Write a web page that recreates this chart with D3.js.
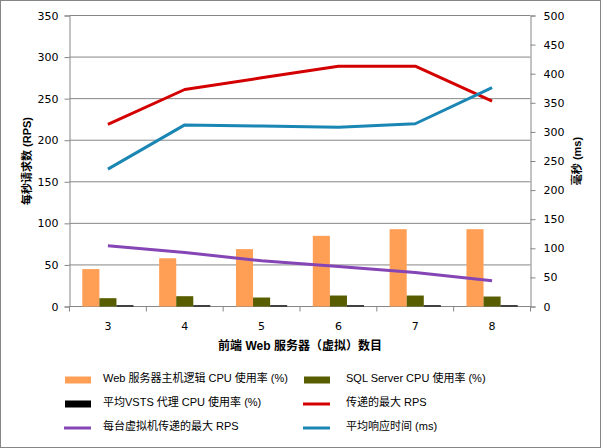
<!DOCTYPE html>
<html><head><meta charset="utf-8">
<script src="https://cdn.jsdelivr.net/npm/d3@7"></script>
<style>body{margin:0;background:#fff}svg{display:block}</style>
</head><body>
<svg id="c" width="601" height="448"></svg>
<script>
const categories = ["3","4","5","6","7","8"];
const webCpu = [45, 58, 69, 85, 93, 93];
const sqlCpu = [10, 12.4, 10.8, 13.2, 13.2, 12];
const vstsCpu = [1.5, 1.5, 1.5, 1.5, 1.5, 1.5];
const maxRps = [219, 261, 275, 289, 289, 247];
const perVmRps = [73, 65, 55, 48, 41, 31];
const avgRespMs = [236, 312, 310, 308, 314, 376];
const leftTicks = [0,50,100,150,200,250,300,350];
const rightTicks = [0,50,100,150,200,250,300,350,400,450,500];

const svg = d3.select("#c");
const W=601,H=448;
svg.append("rect").attr("x",0.5).attr("y",0.5).attr("width",W-1).attr("height",H-1).attr("fill","#fff").attr("stroke","#868686");

const L=69.5,R=530.5,T=15.5,B=306.5;
const x = d3.scaleBand().domain(categories).range([L,R]).paddingInner(0).paddingOuter(0);
const yL = d3.scaleLinear().domain([0,350]).range([B,T]);
const yR = d3.scaleLinear().domain([0,500]).range([B,T]);

// gridlines
svg.append("g").selectAll("line").data(leftTicks.filter(d=>d>0)).join("line")
 .attr("x1",L).attr("x2",R).attr("y1",d=>yL(d)).attr("y2",d=>yL(d)).attr("stroke","#868686");

const tickFont = "'DejaVu Sans', sans-serif";
// left axis
const gl = svg.append("g").attr("transform",`translate(${L},0)`).call(d3.axisLeft(yL).tickValues(leftTicks).tickSize(5).tickPadding(6));
gl.select(".domain").attr("stroke","#868686");
gl.selectAll(".tick line").attr("stroke","#868686");
gl.selectAll("text").attr("font-family",tickFont).attr("font-size",11).attr("fill","#000");
// right axis
const gr = svg.append("g").attr("transform",`translate(${R},0)`).call(d3.axisRight(yR).tickValues(rightTicks).tickSize(5).tickPadding(8));
gr.select(".domain").attr("stroke","#868686");
gr.selectAll(".tick line").attr("stroke","#868686");
gr.selectAll("text").attr("font-family",tickFont).attr("font-size",11).attr("fill","#000");
// bottom axis
const gb = svg.append("g").attr("transform",`translate(0,${B})`);
gb.append("line").attr("x1",L).attr("x2",R).attr("stroke","#868686");
const edges = categories.map(c=>x(c)).concat([R]);
gb.selectAll("line.t").data(edges).join("line").attr("class","t").attr("x1",d=>d).attr("x2",d=>d).attr("y1",0).attr("y2",5).attr("stroke","#868686");
gb.selectAll("text").data(categories).join("text").attr("x",d=>x(d)+x.bandwidth()/2).attr("y",23)
 .attr("text-anchor","middle").attr("font-family",tickFont).attr("font-size",11).text(d=>d);

// bars
const bw = x.bandwidth();
const inner = d3.scaleBand().domain([0,1,2]).range([0,bw]).paddingInner(0).paddingOuter(0.75);
const barSeries = [{v:webCpu,c:"#FF9F55"},{v:sqlCpu,c:"#585E00"},{v:vstsCpu,c:"#000000"}];
barSeries.forEach((s,i)=>{
  svg.append("g").selectAll("rect").data(s.v).join("rect")
   .attr("x",(d,j)=>x(categories[j])+inner(i)).attr("width",inner.bandwidth())
   .attr("y",d=>yL(d)).attr("height",d=>B-yL(d)).attr("fill",s.c);
});

// lines
const cx = c=>x(c)+bw/2;
function drawLine(vals, scale, color){
  const line = d3.line().x((d,i)=>cx(categories[i])).y(d=>scale(d));
  svg.append("path").datum(vals).attr("d",line).attr("fill","none").attr("stroke",color).attr("stroke-width",3).attr("stroke-linejoin","round");
}
drawLine(perVmRps, yL, "#8545B5");
drawLine(maxRps, yL, "#D40000");
drawLine(avgRespMs, yR, "#1A86B4");

// axis titles
const cjk = "'Liberation Sans','Noto Sans CJK SC',sans-serif";
svg.append("text").attr("transform","translate(31,161) rotate(-90)").attr("text-anchor","middle")
 .attr("font-family",cjk).attr("font-size",11).attr("font-weight","bold").text("每秒请求数 (RPS)");
svg.append("text").attr("transform","translate(581,161) rotate(-90)").attr("text-anchor","middle")
 .attr("font-family",cjk).attr("font-size",11).attr("font-weight","bold").text("毫秒 (ms)");
svg.append("text").attr("x",300).attr("y",350).attr("text-anchor","middle")
 .attr("font-family",cjk).attr("font-size",12).attr("font-weight","bold").text("前端 Web 服务器（虚拟）数目");

// legend
const legend = [
 {n:"Web 服务器主机逻辑 CPU 使用率 (%)",c:"#FF9F55",t:"bar"},
 {n:"SQL Server CPU 使用率 (%)",c:"#585E00",t:"bar"},
 {n:"平均VSTS 代理 CPU 使用率 (%)",c:"#000000",t:"bar"},
 {n:"传递的最大 RPS",c:"#D40000",t:"line"},
 {n:"每台虚拟机传递的最大 RPS",c:"#8545B5",t:"line"},
 {n:"平均响应时间 (ms)",c:"#1A86B4",t:"line"}
];
const colX = [{s:64,t:103},{s:303,t:346}];
const lg = svg.append("g").selectAll("g").data(legend).join("g")
 .attr("transform",(d,i)=>`translate(0,${380+Math.floor(i/2)*24})`);
lg.each(function(d,i){
  const g=d3.select(this), c=colX[i%2];
  if(d.t==="bar") g.append("rect").attr("x",c.s+1).attr("y",-3.5).attr("width",26).attr("height",7).attr("fill",d.c);
  else g.append("line").attr("x1",c.s).attr("x2",c.s+27).attr("y1",0).attr("y2",0).attr("stroke",d.c).attr("stroke-width",3);
  g.append("text").attr("x",c.t).attr("y",2).attr("font-family",cjk).attr("font-size",11).text(d.n);
});
</script>
</body></html>
